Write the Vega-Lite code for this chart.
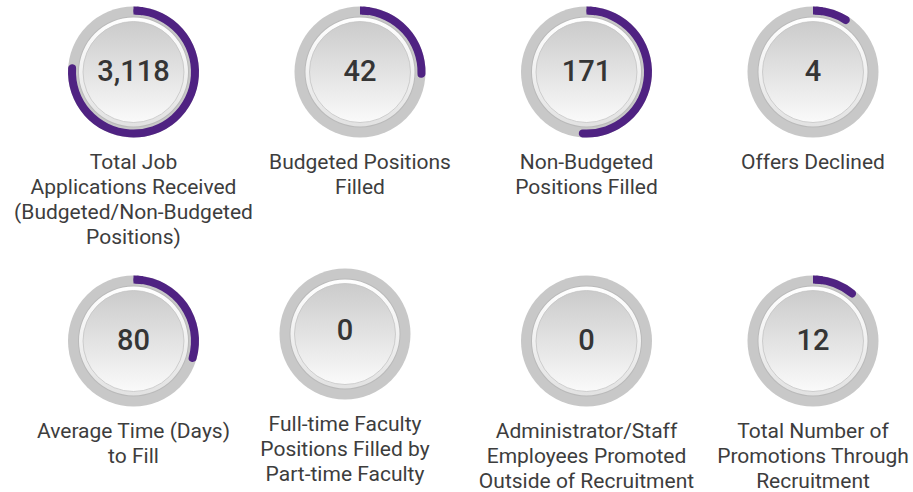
{
  "$schema": "https://vega.github.io/schema/vega-lite/v6.json",
  "width": 913,
  "height": 492,
  "autosize": {"type": "fit", "contains": "padding"},
  "padding": 0,
  "background": "white",
  "config": {"view": {"stroke": null}},
  "data": {
    "values": [
      {"row": 1, "col": 1, "value": 3118, "frac": 0.77, "label": "Total Job\nApplications Received\n(Budgeted/Non-Budgeted\nPositions)"},
      {"row": 1, "col": 2, "value": 42, "frac": 0.265, "label": "Budgeted Positions\nFilled"},
      {"row": 1, "col": 3, "value": 171, "frac": 0.52, "label": "Non-Budgeted\nPositions Filled"},
      {"row": 1, "col": 4, "value": 4, "frac": 0.1, "label": "Offers Declined"},
      {"row": 2, "col": 1, "value": 80, "frac": 0.305, "label": "Average Time (Days)\nto Fill"},
      {"row": 2, "col": 2, "value": 0, "frac": 0, "label": "Full-time Faculty\nPositions Filled by\nPart-time Faculty"},
      {"row": 2, "col": 3, "value": 0, "frac": 0, "label": "Administrator/Staff\nEmployees Promoted\nOutside of Recruitment"},
      {"row": 2, "col": 4, "value": 12, "frac": 0.12, "label": "Total Number of\nPromotions Through\nRecruitment"}
    ]
  },
  "encoding": {
    "x": {"field": "col", "type": "quantitative", "scale": {"domain": [0.4106, 4.4415], "nice": false, "zero": false}, "axis": null},
    "y": {"field": "row", "type": "quantitative", "scale": {"domain": [0.73234, 2.56134], "nice": false, "zero": false, "reverse": true}, "axis": null}
  },
  "layer": [
    {
      "mark": {"type": "arc", "radius": 65.5, "theta": 0, "theta2": 6.2832, "fill": "#c8c8c8",
        "xOffset": {"expr": "datum.row == 2 && datum.col == 2 ? -15 : 0"},
        "yOffset": {"expr": "datum.row == 2 && datum.col == 2 ? -7 : 0"}}
    },
    {
      "transform": [{"filter": "datum.frac > 0"}],
      "mark": {"type": "arc", "radius": 65.5, "radius2": 57.5, "cornerRadius": 4, "fill": "#4f2282"},
      "encoding": {
        "theta": {"field": "frac", "type": "quantitative", "stack": null, "scale": {"domain": [0, 1], "range": [0, 6.2832]}}
      }
    },
    {
      "transform": [{"filter": "datum.frac > 0.05"}],
      "mark": {"type": "arc", "radius": 65.5, "radius2": 57.5, "theta": 0, "theta2": 0.15, "fill": "#4f2282"}
    },
    {
      "mark": {"type": "arc", "radius": 55.5, "theta": 0, "theta2": 6.2832, "fill": "#bababa",
        "xOffset": {"expr": "datum.row == 2 && datum.col == 2 ? -15 : 0"},
        "yOffset": {"expr": "datum.row == 2 && datum.col == 2 ? -7 : 0"}}
    },
    {
      "mark": {"type": "arc", "radius": 54.5, "theta": 0, "theta2": 6.2832,
        "fill": {"gradient": "linear", "x1": 0, "y1": 0, "x2": 0, "y2": 1, "stops": [{"offset": 0, "color": "#ffffff"}, {"offset": 1, "color": "#e2e2e2"}]},
        "xOffset": {"expr": "datum.row == 2 && datum.col == 2 ? -15 : 0"},
        "yOffset": {"expr": "datum.row == 2 && datum.col == 2 ? -7 : 0"}}
    },
    {
      "mark": {"type": "arc", "radius": 50.5, "theta": 0, "theta2": 6.2832,
        "fill": {"gradient": "linear", "x1": 0, "y1": 0, "x2": 0, "y2": 1, "stops": [{"offset": 0, "color": "#cbcbcb"}, {"offset": 1, "color": "#fafafa"}]},
        "stroke": "#c4c4c4", "strokeWidth": 0.8,
        "xOffset": {"expr": "datum.row == 2 && datum.col == 2 ? -15 : 0"},
        "yOffset": {"expr": "datum.row == 2 && datum.col == 2 ? -7 : 0"}}
    },
    {
      "mark": {"type": "text", "font": "Roboto", "fontSize": 29, "fontWeight": 500, "color": "#353535", "align": "center", "baseline": "middle",
        "xOffset": {"expr": "datum.row == 2 && datum.col == 2 ? -15 : 0"},
        "yOffset": {"expr": "datum.row == 2 && datum.col == 2 ? -10 : 0"}},
      "encoding": {"text": {"field": "value", "type": "quantitative", "format": ",d"}}
    },
    {
      "mark": {"type": "text", "font": "Roboto", "fontSize": 21, "color": "#3d3d3d", "align": "center", "baseline": "top", "lineBreak": "\n", "lineHeight": 25, "dy": 80,
        "xOffset": {"expr": "datum.row == 2 && datum.col == 2 ? -15 : 0"},
        "yOffset": {"expr": "datum.row == 2 && datum.col == 2 ? -7 : 0"}},
      "encoding": {"text": {"field": "label", "type": "nominal"}}
    }
  ]
}
